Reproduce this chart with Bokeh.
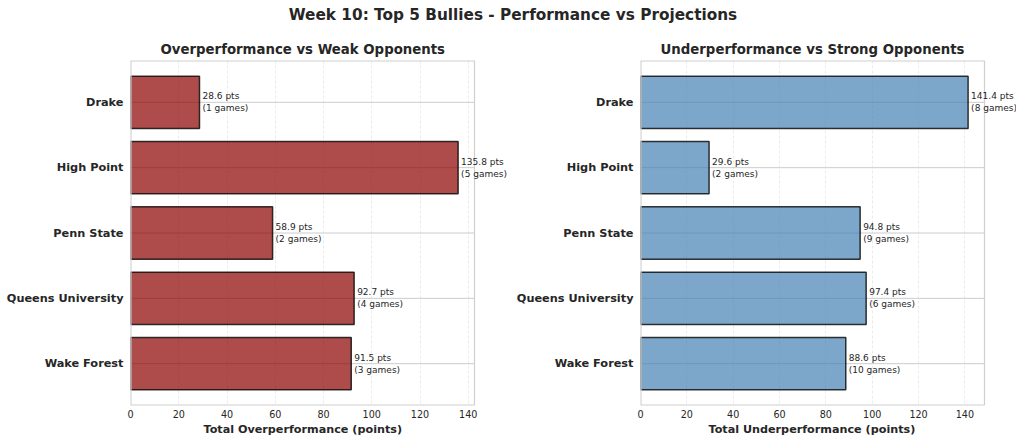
from bokeh.plotting import figure
from bokeh.models import ColumnDataSource, Label, FixedTicker, Range1d, Div, Title
from bokeh.layouts import column, row
from bokeh.embed import file_html
from bokeh.resources import INLINE

teams = ["Drake", "High Point", "Penn State", "Queens University", "Wake Forest"]
over_pts = [28.6, 135.8, 58.9, 92.7, 91.5]
over_games = [1, 5, 2, 4, 3]
under_pts = [141.4, 29.6, 94.8, 97.4, 88.6]
under_games = [8, 2, 9, 6, 10]
x_ticks = [0, 20, 40, 60, 80, 100, 120, 140]

FONT = "DejaVu Sans"
TXT = "#262626"
EDGE = "#d0d0d0"
VIS_W = 344  # visible (matplotlib-like) frame width in px


def make_panel(title, xlabel, vals, games, color, width, bl, ystand, t_off, x_off):
    n = len(teams)
    ypos = list(range(n))
    xmax = max(vals) * 1.05
    ext = width - bl
    x_end = xmax * ext / VIS_W
    y_bot = n - 1 + 0.4 + 0.24
    y_top = -0.4 - 0.24
    p = figure(width=width, height=410,
               x_range=Range1d(0, x_end),
               y_range=Range1d(y_bot, y_top),
               output_backend="svg", toolbar_location=None,
               min_border_left=bl, min_border_right=0,
               min_border_top=33, min_border_bottom=32)
    p.background_fill_color = "white"
    p.border_fill_color = "white"
    p.outline_line_color = None

    p.title.text = title
    p.title.text_font = FONT
    p.title.text_font_size = "13.3px"
    p.title.text_font_style = "bold"
    p.title.text_color = TXT
    p.title.align = "left"
    p.title.offset = t_off
    p.title.standoff = 8

    # horizontal grid lines at categories (stop at visible frame edge)
    p.segment(x0=0, x1=xmax, y0=ypos, y1=ypos, line_color="#cccccc", line_width=1)

    src = ColumnDataSource(dict(y=ypos, right=vals))
    p.hbar(y="y", left=0, right="right", height=0.8, source=src,
           fill_color=color, fill_alpha=0.7,
           line_color="black", line_alpha=0.78, line_width=1.5)

    # visible frame border
    p.line(x=[xmax, 0, 0, xmax], y=[y_top, y_top, y_bot, y_bot],
           line_color=EDGE, line_width=2.2)
    p.segment(x0=[xmax], x1=[xmax], y0=[y_top], y1=[y_bot],
              line_color=EDGE, line_width=1.2)

    for i, (v, g) in enumerate(zip(vals, games)):
        p.add_layout(Label(x=v, y=ypos[i], text=f"{v:.1f} pts\n({g} games)",
                           x_offset=3, text_baseline="middle", text_align="left",
                           text_font=FONT, text_font_size="9px",
                           text_color=TXT, text_line_height=1.2))

    # axes
    p.yaxis.ticker = FixedTicker(ticks=ypos)
    p.yaxis.major_label_overrides = {i: t for i, t in enumerate(teams)}
    p.yaxis.major_label_text_font = FONT
    p.yaxis.major_label_text_font_size = "11.3px"
    p.yaxis.major_label_text_font_style = "bold"
    p.yaxis.major_label_text_color = TXT
    p.yaxis.major_label_standoff = ystand
    p.yaxis.axis_line_color = None
    p.yaxis.major_tick_line_color = None
    p.yaxis.minor_tick_line_color = None
    p.yaxis.major_tick_out = 0
    p.yaxis.major_tick_in = 0
    p.ygrid.visible = False

    p.xaxis.ticker = FixedTicker(ticks=x_ticks)
    p.xaxis.major_label_text_font = FONT
    p.xaxis.major_label_text_font_size = "9.6px"
    p.xaxis.major_label_text_color = TXT
    p.xaxis.major_label_standoff = 4
    p.xaxis.axis_line_color = None
    p.xaxis.major_tick_line_color = None
    p.xaxis.minor_tick_line_color = None
    p.xaxis.major_tick_out = 0
    p.xaxis.major_tick_in = 0

    xt = Title(text=xlabel, align="left", offset=x_off, text_font=FONT,
               text_font_size="11.2px", text_font_style="bold", text_color=TXT,
               standoff=1)
    p.add_layout(xt, "below")

    p.xgrid.ticker = FixedTicker(ticks=x_ticks)
    p.xgrid.grid_line_color = "#cccccc"
    p.xgrid.grid_line_alpha = 0.5
    p.xgrid.grid_line_dash = "3 2"
    p.xgrid.grid_line_width = 0.8
    return p


p1 = make_panel("Overperformance vs Weak Opponents", "Total Overperformance (points)",
                over_pts, over_games, "darkred", 508, 130, 7, 30, 73)
p2 = make_panel("Underperformance vs Strong Opponents", "Total Underperformance (points)",
                under_pts, under_games, "steelblue", 508, 132, 7, 20, 68)

head = Div(text="Week 10: Top 5 Bullies - Performance vs Projections",
           width=1016, height=17,
           styles={"font-family": FONT, "font-size": "15.3px", "font-weight": "bold",
                   "color": TXT, "text-align": "center", "line-height": "20px"})

layout = column(head, row(p1, p2, spacing=0), spacing=0)
open("out.html", "w").write(file_html(layout, INLINE))
